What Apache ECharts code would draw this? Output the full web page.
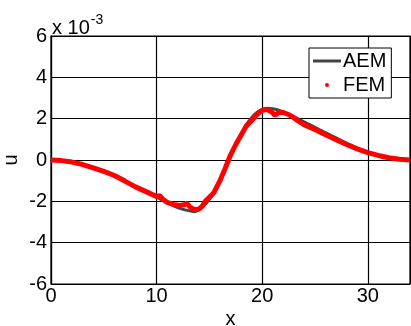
<!DOCTYPE html>
<html>
<head>
<meta charset="utf-8">
<script src="https://cdn.jsdelivr.net/npm/echarts@6/dist/echarts.min.js"></script>
<style>
  html, body { margin: 0; padding: 0; background: #fff; }
  #chart { width: 411px; height: 326px; }
</style>
</head>
<body>
<div id="chart"></div>
<script>
// values in units of 1e-3
const aemX = [0, 1, 2, 3, 4, 5, 6, 7, 8, 9, 10, 11, 12, 13, 13.6, 14, 14.5, 15, 15.5, 16, 16.5, 17, 17.5, 18, 18.5, 19, 19.5, 20, 20.5, 21, 21.5, 22, 23, 24, 25, 26, 27, 28, 29, 30, 31, 32, 33, 34];
const aemY = [0, -0.02, -0.08, -0.2, -0.35, -0.55, -0.78, -1.02, -1.3, -1.55, -1.8, -2.05, -2.3, -2.45, -2.5, -2.4, -2.2, -1.9, -1.55, -1.05, -0.45, 0.2, 0.75, 1.25, 1.72, 2.05, 2.3, 2.45, 2.5, 2.48, 2.42, 2.33, 2.1, 1.84, 1.58, 1.32, 1.07, 0.82, 0.58, 0.38, 0.22, 0.12, 0.04, 0];

const femX = [0, 1, 2, 3, 4, 5, 6, 7, 8, 9, 10, 10.3, 10.6, 11, 11.6, 12.2, 12.6, 12.85, 13.2, 13.6, 14, 14.3, 14.6, 14.9, 15.4, 16, 16.5, 17, 17.5, 18, 18.5, 19, 19.5, 20, 20.5, 20.9, 21.2, 21.6, 22, 22.5, 22.9, 23.3, 24, 25, 26, 27, 28, 29, 30, 31, 32, 33, 34];
const femY = [0, -0.03, -0.1, -0.22, -0.38, -0.55, -0.75, -1.02, -1.3, -1.53, -1.77, -1.72, -1.9, -2.05, -2.15, -2.2, -2.17, -2.08, -2.3, -2.4, -2.38, -2.25, -2.0, -1.85, -1.6, -1.0, -0.4, 0.24, 0.75, 1.2, 1.65, 1.9, 2.2, 2.4, 2.44, 2.32, 2.17, 2.3, 2.3, 2.2, 2.08, 1.93, 1.7, 1.48, 1.22, 0.98, 0.75, 0.54, 0.36, 0.22, 0.11, 0.04, 0];

const xTicks = [0, 10, 20, 30];
const yTicks = [-6, -4, -2, 0, 2, 4, 6];

const font = 'Liberation Sans, Arial, sans-serif';

function zip(xs, ys) {
  return xs.map((x, i) => [x, ys[i]]);
}

const chart = echarts.init(document.getElementById('chart'));
chart.setOption({
  animation: false,
  backgroundColor: '#fff',
  grid: {
    left: 51, right: 1, top: 36, bottom: 42,
    outerBoundsMode: 'none',
    containLabel: false,
    show: true, borderColor: '#000', borderWidth: 1.2
  },
  legend: {
    left: 309, top: 48,
    orient: 'vertical',
    backgroundColor: '#fff',
    borderColor: '#000', borderWidth: 1, borderRadius: 0,
    padding: [3, 5, 3, 4],
    itemGap: 4,
    itemWidth: 28, itemHeight: 14,
    textStyle: { fontFamily: font, fontSize: 20, color: '#000', padding: [0, 0, 0, -3] },
    data: [
      { name: 'AEM', icon: 'path://M0,0 L28,0 L28,3 L0,3 Z' },
      { name: 'FEM', icon: 'path://M0,0 M28,14 M12,7 a2,2 0 1,0 4,0 a2,2 0 1,0 -4,0 Z' }
    ]
  },
  xAxis: {
    type: 'value',
    min: 0, max: 34, interval: 10,
    name: 'x',
    nameLocation: 'middle',
    nameGap: 25,
    nameMoveOverlap: false,
    nameTextStyle: { fontFamily: font, fontSize: 20, color: '#000' },
    axisLine: { lineStyle: { color: '#000', width: 1.2 } },
    axisTick: { show: false },
    axisLabel: {
      fontFamily: font, fontSize: 20, color: '#000', margin: 2,
      showMaxLabel: false,
      formatter: v => (xTicks.includes(v) ? String(v) : '')
    },
    splitLine: { show: true, lineStyle: { color: '#000', width: 1.2 } }
  },
  yAxis: [
    {
      type: 'value',
      min: -6, max: 6, interval: 2,
      name: 'u',
      nameLocation: 'middle',
      nameGap: 30,
      nameMoveOverlap: false,
      nameTextStyle: { fontFamily: font, fontSize: 20, color: '#000' },
      axisLine: { lineStyle: { color: '#000', width: 1.2 } },
      axisTick: { show: false },
      axisLabel: {
        fontFamily: font, fontSize: 20, color: '#000', margin: 4,
        formatter: v => (yTicks.includes(v) ? String(v) : '')
      },
      splitLine: { show: true, lineStyle: { color: '#000', width: 1.2 } }
    },
    {
      type: 'value',
      min: -6, max: 6, interval: 2,
      position: 'left',
      name: '{a|x 10}{b|-3}',
      nameLocation: 'end',
      nameGap: -7,
      nameMoveOverlap: false,
      nameTextStyle: {
        align: 'left',
        verticalAlign: 'bottom',
        padding: [0, 0, 0, 1],
        rich: {
          a: { fontFamily: font, fontSize: 20, color: '#000' },
          b: { fontFamily: font, fontSize: 14, color: '#000', padding: [0, 0, 16, 1] }
        }
      },
      axisLine: { show: false },
      axisTick: { show: false },
      axisLabel: { show: false },
      splitLine: { show: false }
    }
  ],
  series: [
    {
      name: 'AEM',
      type: 'line',
      data: zip(aemX, aemY),
      smooth: 0.3,
      showSymbol: false,
      symbol: 'none',
      color: '#444444',
      lineStyle: { color: '#444444', width: 3 },
      z: 2
    },
    {
      name: 'FEM',
      type: 'line',
      data: zip(femX, femY),
      showSymbol: false,
      symbol: 'none',
      color: '#ff0000',
      itemStyle: { color: '#ff0000' },
      lineStyle: { color: '#ff0000', width: 5 },
      z: 3
    }
  ]
});
</script>
</body>
</html>
